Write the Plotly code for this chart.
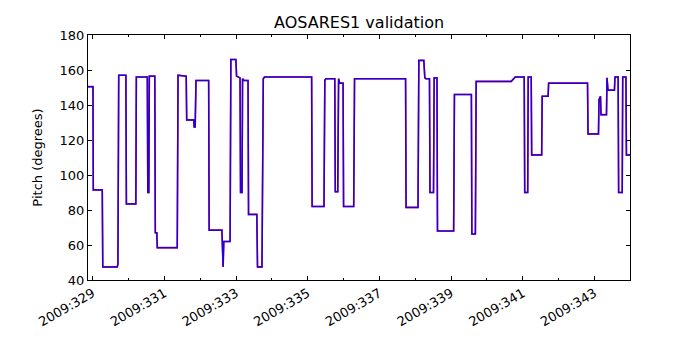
import plotly.graph_objects as go

# Day-of-year 2009 (fractional) and pitch values
times = [
    328.869, 329.008, 329.017, 329.267, 329.281, 329.684, 329.704, 329.726, 329.926, 329.940,
    330.204, 330.218, 330.524, 330.538, 330.566, 330.580, 330.733, 330.747, 330.789, 330.802,
    331.359, 331.381, 331.609, 331.623, 331.818, 331.832, 331.859, 331.882, 332.235, 332.249,
    332.605, 332.619, 332.638, 332.658, 332.833, 332.855, 332.994, 333.014, 333.111, 333.125,
    333.167, 333.181, 333.222, 333.334, 333.348, 333.579, 333.598, 333.723, 333.759, 333.793,
    335.108, 335.122, 335.453, 335.476, 335.503, 335.754, 335.768, 335.837, 335.860, 335.893,
    335.985, 335.999, 336.282, 336.305, 337.729, 337.743, 338.076, 338.099, 338.238, 338.266,
    338.299, 338.396, 338.410, 338.508, 338.527, 338.605, 338.619, 339.070, 339.092, 339.565,
    339.578, 339.676, 339.698, 340.677, 340.747, 340.789, 341.039, 341.053, 341.136, 341.150,
    341.234, 341.247, 341.526, 341.540, 341.706, 341.720, 342.805, 342.819, 343.111, 343.125,
    343.167, 343.181, 343.334, 343.348, 343.376, 343.556, 343.571, 343.659, 343.673, 343.773,
    343.787, 343.876, 343.890, 343.990,
]
pitch_telem = [
    150.5, 150.5, 91.5, 91.5, 47.5, 47.5, 49, 157, 157, 83.5,
    83.5, 156, 156, 90, 90, 156.5, 156.5, 67, 67, 58.5,
    58.5, 157, 156.5, 131.5, 131.5, 127.5, 127.5, 154, 154, 68.5,
    68.5, 47.5, 47.5, 62, 62, 166, 166, 156.5, 155.5, 90,
    90, 155, 154, 154, 77.5, 77.5, 47.5, 47.5, 155, 156,
    156, 82, 82, 154, 155, 155, 90.5, 90.5, 155, 152.5,
    152.5, 82, 82, 155, 155, 81.5, 81.5, 165.5, 165.5, 155.5,
    155, 155, 90, 90, 155.5, 155.5, 68, 68, 146, 146,
    66.3, 66.3, 153.5, 153.5, 155.5, 156, 156, 90, 90, 156,
    156, 111.5, 111.5, 145, 145, 152.5, 152.5, 123.5, 123.5, 143,
    145, 134.5, 134.5, 155.5, 148.5, 148.5, 156, 156, 90, 90,
    156, 156, 111.5, 111.5,
]
# the predicted (red) curve overlaps the telemetry (blue) curve throughout
pitch_model = list(pitch_telem)

tick_days = [329, 331, 333, 335, 337, 339, 341, 343]
tick_labels = ["2009:%d" % d for d in tick_days]
y_ticks = [40, 60, 80, 100, 120, 140, 160, 180]

fig = go.Figure()
fig.add_trace(go.Scatter(x=times, y=pitch_model, mode="lines",
                         line=dict(color="#ff0000", width=1.6), name="model"))
fig.add_trace(go.Scatter(x=times, y=pitch_telem, mode="lines",
                         line=dict(color="#0000ff", width=1.5), opacity=0.88, name="telemetry"))

fig.update_layout(
    width=700, height=350,
    margin=dict(l=88, r=70, t=35, b=70),
    plot_bgcolor="white", paper_bgcolor="white",
    showlegend=False,
    font=dict(family="DejaVu Sans", color="black", size=13),
    title=dict(text="AOSARES1 validation", x=0.513, xanchor="center",
               y=1 - 22 / 350, yanchor="middle",
               font=dict(size=16, color="black", family="DejaVu Sans")),
)
fig.update_xaxes(
    range=[328.869, 343.99],
    tickmode="array", tickvals=tick_days, ticktext=tick_labels,
    tickangle=-30, ticks="inside", ticklen=4, tickcolor="black", tickwidth=1,
    showline=True, linecolor="black", linewidth=1, mirror="ticks",
    showgrid=False, zeroline=False,
    tickfont=dict(size=13, color="black"),
    minor=dict(ticks="inside", dtick=1, tick0=329, ticklen=2, tickcolor="black", showgrid=False),
)
fig.update_yaxes(
    range=[40, 180],
    tickmode="array", tickvals=y_ticks,
    ticks="inside", ticklen=4, tickcolor="black", tickwidth=1,
    showline=True, linecolor="black", linewidth=1, mirror="ticks",
    showgrid=False, zeroline=False,
    tickfont=dict(size=13, color="black"),
    title=dict(text="Pitch (degrees)", font=dict(size=13, color="black"), standoff=14),
)

fig.write_html("out.html", config={"displayModeBar": False})
